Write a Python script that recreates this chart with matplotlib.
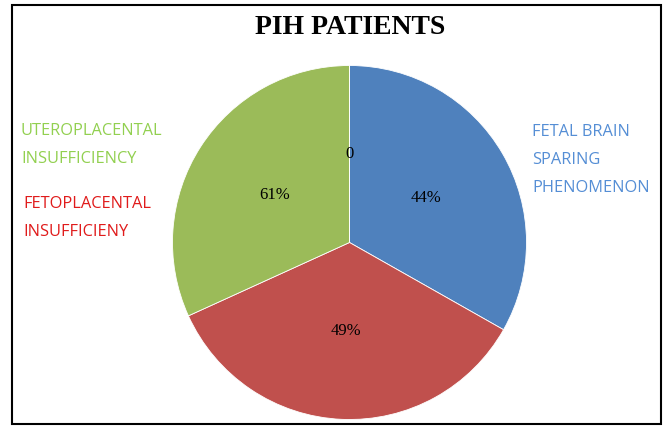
import matplotlib.pyplot as plt
import matplotlib.patches as patches
import numpy as np

# Data (wedge shares estimated from the drawn angles)
categories = ["FETAL BRAIN\nSPARING\nPHENOMENON", "FETOPLACENTAL\nINSUFFICIENY",
              "UTEROPLACENTAL\nINSUFFICIENCY", ""]
shares = [33.2, 35.0, 31.8, 0]
value_labels = ["44%", "49%", "61%", "0"]
colors = ["#4F81BD", "#C0504D", "#9BBB59", "#9BBB59"]
text_colors = ["#558ED5", "#E01B1B", "#92D050"]

W, H = 667, 426
fig = plt.figure(figsize=(W / 100, H / 100), dpi=100)

# outer frame
frame = patches.Rectangle((11.5 / W, (H - 423.5) / H), (660.5 - 11.5) / W, (423.5 - 5) / H,
                          transform=fig.transFigure, fill=False, edgecolor="black",
                          linewidth=1.5)
fig.patches.append(frame)

# pie axes placed by pixel center / radius
cx, cy, r = 349.5, 242.5, 177
ax = fig.add_axes([(cx - r) / W, (H - cy - r) / H, 2 * r / W, 2 * r / H])
wedges, _ = ax.pie(shares, colors=colors, startangle=90, counterclock=False,
                   radius=1, wedgeprops=dict(linewidth=0.6, edgecolor="white"))
ax.set_xlim(-1, 1)
ax.set_ylim(-1, 1)
ax.set_aspect("equal")
ax.axis("off")

for w, lab in zip(wedges, value_labels):
    mid = np.deg2rad((w.theta1 + w.theta2) / 2)
    ax.text(0.5 * np.cos(mid), 0.5 * np.sin(mid), lab, ha="center", va="center",
            fontsize=12, family="Liberation Serif", color="black")

# title
fig.text(350 / W, 1 - 27 / H, "PIH PATIENTS", ha="center", va="center",
         fontsize=20, fontweight="bold", family="Liberation Serif")

# category labels
label_font = dict(fontsize=11.8, family="Open Sans", linespacing=2.0)
fig.text(532 / W, 1 - 124 / H, categories[0], ha="left", va="top",
         color=text_colors[0], **label_font)
fig.text(23 / W, 1 - 196 / H, categories[1], ha="left", va="top",
         color=text_colors[1], **label_font)
fig.text(21 / W, 1 - 123 / H, categories[2], ha="left", va="top",
         color=text_colors[2], **label_font)

plt.savefig("out.png", dpi=100)
